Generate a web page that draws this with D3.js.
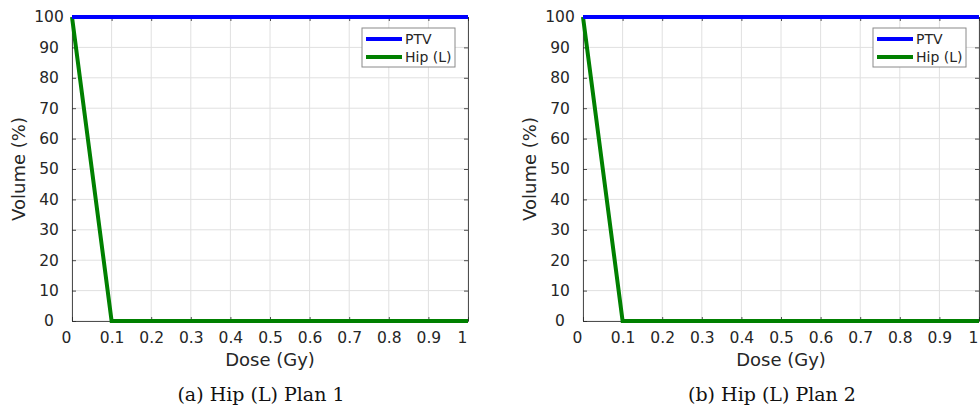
<!DOCTYPE html>
<html><head><meta charset="utf-8">
<script src="https://cdn.jsdelivr.net/npm/d3@7"></script>
<style>body{margin:0;background:#fff}svg{display:block}</style>
</head><body>
<svg id="c" width="980" height="407"></svg>
<script>
const dose = [0, 0.1, 1];
const ptvVolume = [100, 100, 100];
const hipVolume = [100, 0, 0];
const xTicks = [0, 0.1, 0.2, 0.3, 0.4, 0.5, 0.6, 0.7, 0.8, 0.9, 1];
const yTicks = [0, 10, 20, 30, 40, 50, 60, 70, 80, 90, 100];
const seriesNames = ["PTV", "Hip (L)"];
const seriesColors = ["#0000ff", "#008000"];
const captions = ["(a) Hip (L) Plan 1", "(b) Hip (L) Plan 2"];
const panelOffsets = [0, 511];

const svg = d3.select("#c");
const axisCol = "#262626";
const sans = "DejaVu Sans, sans-serif";

panelOffsets.forEach((off, pi) => {
  const L = 72 + off, R = 468 + off, T = 17, B = 321;
  const x = d3.scaleLinear().domain([0, 1]).range([L, R]);
  const y = d3.scaleLinear().domain([0, 100]).range([B, T]);
  const g = svg.append("g");

  // grid
  g.selectAll(".gx").data(xTicks).join("line")
    .attr("x1", d => x(d)).attr("x2", d => x(d)).attr("y1", T).attr("y2", B)
    .attr("stroke", "#e0e0e0").attr("stroke-width", 1);
  g.selectAll(".gy").data(yTicks).join("line")
    .attr("y1", d => y(d)).attr("y2", d => y(d)).attr("x1", L).attr("x2", R)
    .attr("stroke", "#e0e0e0").attr("stroke-width", 1);

  // axes
  const ax = g.append("g").attr("transform", `translate(0,${B})`)
    .call(d3.axisBottom(x).tickValues(xTicks).tickSizeInner(-4).tickSizeOuter(0)
      .tickPadding(11).tickFormat(d => d3.format("~g")(d)));
  ax.selectAll(".tick text").attr("dx", d => (d === 0 || d === 1) ? -6 : 0);
  const ay = g.append("g").attr("transform", `translate(${L},0)`)
    .call(d3.axisLeft(y).tickValues(yTicks).tickSizeInner(-4).tickSizeOuter(0).tickPadding(23));
  ay.selectAll(".tick text").attr("text-anchor", "middle");
  const ar = g.append("g").attr("transform", `translate(${R},0)`)
    .call(d3.axisRight(y).tickValues(yTicks).tickSizeInner(-4).tickSizeOuter(0).tickFormat(""));
  const at = g.append("g").attr("transform", `translate(0,${T})`)
    .call(d3.axisTop(x).tickValues(xTicks).tickSizeInner(-4).tickSizeOuter(0).tickFormat(""));
  [ax, ay, ar, at].forEach(a => {
    a.select(".domain").attr("stroke", axisCol).attr("stroke-width", 0.8);
    a.selectAll(".tick line").attr("stroke", axisCol).attr("stroke-width", 0.8);
    a.selectAll(".tick text").attr("fill", axisCol).attr("font-family", sans).attr("font-size", 15.5);
  });

  // lines
  const line = d3.line().x(d => x(d[0])).y(d => y(d[1]));
  const series = [ptvVolume, hipVolume];
  [1, 0].forEach(si => {
    g.append("path").datum(dose.map((d, i) => [d, series[si][i]]))
      .attr("d", line).attr("fill", "none")
      .attr("stroke", seriesColors[si]).attr("stroke-width", 4)
      .attr("stroke-linejoin", "miter");
  });

  // legend
  const lg = g.append("g");
  lg.append("rect").attr("x", 362 + off).attr("y", 28).attr("width", 93).attr("height", 39)
    .attr("fill", "#fff").attr("stroke", "#8a8a8a").attr("stroke-width", 1);
  seriesNames.forEach((n, i) => {
    const yy = 39 + i * 18;
    lg.append("line").attr("x1", 366 + off).attr("x2", 402 + off).attr("y1", yy).attr("y2", yy)
      .attr("stroke", seriesColors[i]).attr("stroke-width", 4);
    lg.append("text").attr("x", 405 + off).attr("y", yy).attr("dy", "0.36em")
      .attr("font-family", sans).attr("font-size", 14).attr("fill", axisCol).text(n);
  });

  // axis labels
  g.append("text").attr("x", (L + R) / 2).attr("y", 366).attr("text-anchor", "middle")
    .attr("font-family", sans).attr("font-size", 18).attr("fill", axisCol).text("Dose (Gy)");
  g.append("text").attr("transform", `translate(${25 + off},${(T + B) / 2}) rotate(-90)`)
    .attr("text-anchor", "middle")
    .attr("font-family", sans).attr("font-size", 18).attr("fill", axisCol).text("Volume (%)");

  // caption
  g.append("text").attr("x", 261 + off).attr("y", 401).attr("text-anchor", "middle")
    .attr("font-family", "DejaVu Serif, serif").attr("font-size", 19).attr("fill", "#111")
    .text(captions[pi]);
});
</script>
</body></html>
